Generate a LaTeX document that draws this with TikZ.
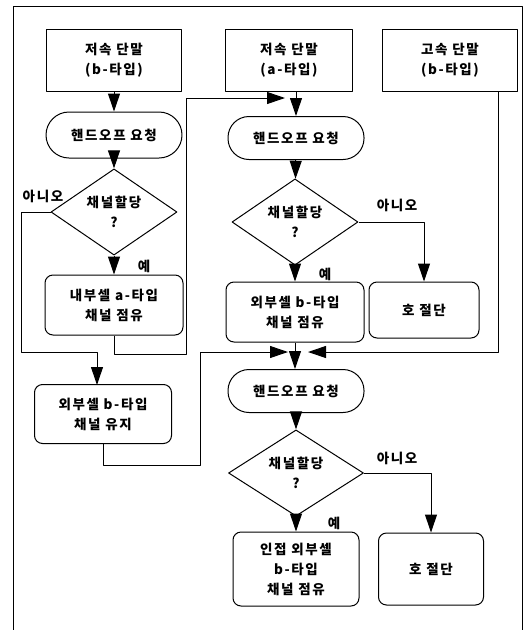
\documentclass[tikz,border=0pt]{standalone}
\usepackage{fontspec}
\setmainfont{Noto Sans CJK KR}[LetterSpace=12]
\usetikzlibrary{shapes.geometric,arrows.meta}
\tikzset{
	term/.style={draw,line width=1pt,minimum width=135pt,minimum height=62pt,align=center},
	proc/.style={draw,line width=1pt,rounded corners=8pt,minimum width=138pt,minimum height=60pt,align=center},
	req/.style={draw,line width=1pt,rounded corners=21pt,minimum width=136pt,minimum height=43pt},
	ask/.style={draw,line width=1pt,diamond,minimum width=126pt,minimum height=80pt,inner sep=0pt,align=center},
	flow/.style={line width=1pt,-{Triangle[length=18pt,width=12pt]}}
}
\begin{document}
\begin{tikzpicture}[x=1pt,y=-1pt,line join=round,font=\fontsize{13.5}{20}\selectfont\bfseries]
			\useasboundingbox (0,0) rectangle (527,630);
			\draw[line width=1pt] (13,630)--(13,6)--(522,6)--(522,630);
			\node[term] (lowb) at (114,60) {저속 단말\\(b-타입)};
			\node[term,minimum width=127pt] (lowa) at (289,60) {저속 단말\\(a-타입)};
			\node[term] (highb) at (450,60) {고속 단말\\(b-타입)};
			\node[req,minimum height=46pt,rounded corners=23pt] (reqa) at (114,135) {핸드오프 요청};
			\node[req] (reqb) at (296,138) {핸드오프 요청};
			\node[ask] (aska) at (114,212) {채널할당\\?};
			\node[ask] (askb) at (295,222) {채널할당\\?};
			\node[proc] (occa) at (114,305) {내부셀 a-타입\\채널 점유};
			\node[proc] (occb) at (295,312) {외부셀 b-타입\\채널 점유};
			\node[proc,minimum width=110pt,minimum height=56pt] (cuta) at (424,310) {호 절단};
			\node[proc,minimum width=137pt,minimum height=59pt] (keep) at (103,414) {외부셀 b-타입\\채널 유지};
			\node[req] (reqc) at (296,391) {핸드오프 요청};
			\node[ask,minimum width=135pt,minimum height=70pt] (askc) at (296,473) {채널할당\\?};
			\node[proc,minimum width=126pt,minimum height=74pt] (occc) at (296,569) {인접 외부셀\\b-타입\\채널 점유};
			\node[proc,minimum width=105pt,minimum height=72pt] (cutb) at (431,569) {호 절단};
			\coordinate (na) at (21,352);
			\coordinate (ka) at (97,385);
			\coordinate (ja) at (285,98);
			\coordinate (jb) at (288,352);
			\coordinate (jc) at (308,352);
			\coordinate (hr) at (498,352);
			\draw[flow] (lowb)--(reqa);
			\draw[flow] (reqa)--(aska);
			\draw[flow] (aska)--(occa)node[pos=0.55,right=20pt]{예};
			\draw[flow] (aska.west)-|(na)-|(ka);
			\draw[flow] (occa.south)|-(186,354)|-(ja);
			\draw[flow] (reqb.north |- lowa.south)--(reqb.north);
			\draw[flow] (reqb)--(askb);
			\draw[flow] (askb)--(occb)node[pos=0.55,right=20pt]{예};
			\draw[flow] (askb.east)-|(cuta.north);
			\draw[flow] (occb.south)--(occb.south |- reqc.north);
			\draw[flow] (highb.south -| hr)--(hr)--(jc);
			\draw[flow] (keep.south)|-(200,465)|-(jb);
			\draw[flow] (reqc)--(askc);
			\draw[flow] (askc)--(occc)node[pos=0.45,right=28pt]{예};
			\draw[flow] (askc.east)-|(cutb.north);
			\node (noa) at (43,196) {아니오};
			\node (nob) at (397,205) {아니오};
			\node (noc) at (397,458) {아니오};
		\end{tikzpicture}
\end{document}
